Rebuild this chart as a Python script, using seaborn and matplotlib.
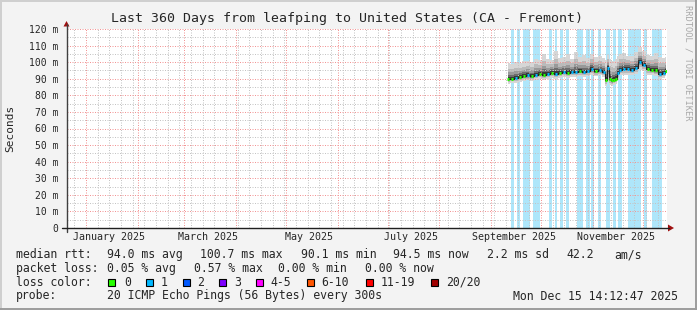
import numpy as np
import pandas as pd
import matplotlib
matplotlib.use("Agg")
import matplotlib.pyplot as plt
from matplotlib.patches import Polygon, Rectangle
from matplotlib.lines import Line2D
import seaborn as sns

# ---------------- data ----------------
# day offsets from start of 360-day window (2024-12-20 14:12:47)
days = [264.6, 267.0, 269.4, 271.8, 274.2, 276.6, 279.0, 281.4, 283.8, 286.2,
        288.6, 291.0, 293.4, 295.8, 298.2, 300.6, 303.0, 305.4, 307.8, 310.2,
        312.6, 315.0, 317.4, 319.8, 322.2, 323.4, 324.6, 325.8, 327.0, 328.2,
        329.4, 330.6, 331.8, 334.2, 336.6, 339.0, 341.4, 343.8, 346.2, 348.6,
        351.0, 353.4, 355.8, 358.2, 359.4]
median_ms = [89.8, 90.0, 90.5, 91.0, 91.5, 92.0, 91.5, 92.5, 93.0, 92.5,
             93.0, 93.5, 93.0, 93.5, 94.0, 93.5, 94.0, 94.0, 94.5, 94.0,
             94.5, 96.0, 94.5, 95.0, 94.0, 89.5, 96.5, 90.0, 89.0, 89.5,
             90.0, 93.5, 95.5, 96.0, 96.0, 95.5, 96.5, 100.3, 98.5, 96.0,
             95.5, 95.0, 93.0, 93.5, 94.5]
smoke_hi = [99.5, 99.0, 100.0, 99.5, 100.5, 101.0, 100.0, 102.0, 101.5, 105.0,
            102.0, 101.5, 106.5, 102.5, 103.0, 105.0, 102.0, 106.0, 103.0, 104.5,
            102.5, 105.0, 103.0, 104.0, 102.5, 101.5, 104.5, 102.0, 101.0, 100.5,
            102.0, 104.0, 105.0, 105.5, 104.0, 103.5, 106.0, 109.0, 106.5, 104.5,
            104.0, 105.5, 103.0, 102.5, 103.0]
smoke_lo = [87.0, 87.5, 87.5, 88.0, 88.5, 89.0, 88.5, 89.5, 90.0, 89.5,
            90.0, 90.5, 90.0, 90.5, 91.0, 90.5, 91.0, 91.0, 91.5, 91.0,
            91.5, 92.0, 91.5, 92.0, 91.0, 85.5, 88.0, 86.5, 85.5, 86.0,
            87.0, 90.0, 92.0, 92.5, 92.5, 92.0, 93.0, 95.0, 94.5, 92.5,
            92.0, 91.5, 90.0, 90.5, 91.5]
loss_pings = [0, 0, 1, 0, 0, 1, 0, 1, 0, 0,
              1, 0, 1, 0, 1, 0, 1, 1, 0, 1,
              1, 1, 0, 1, 1, 0, 1, 0, 0, 0,
              0, 1, 1, 1, 1, 1, 1, 1, 1, 0,
              0, 0, 1, 1, 0]
# light-blue loss bands (start day, end day)
band_start = [266.4, 270.0, 273.6, 279.6, 289.2, 292.8, 295.8, 299.4, 306.0, 311.4,
              314.4, 318.6, 323.4, 327.6, 330.6, 336.6, 346.2, 351.0]
band_end = [268.2, 271.8, 277.8, 283.8, 291.0, 294.0, 297.6, 301.2, 309.6, 313.8,
            316.2, 320.4, 325.8, 329.4, 333.0, 344.4, 348.0, 357.0]

month_starts = [11.41, 42.41, 70.41, 101.41, 131.41, 162.41, 192.41, 223.41, 254.41, 284.41, 315.41, 345.41]
label_days = [25.41, 84.41, 145.41, 206.41, 268.41, 329.41]
label_text = ["January 2025", "March 2025", "May 2025", "July 2025", "September 2025", "November 2025"]
yticks = [0, 10, 20, 30, 40, 50, 60, 70, 80, 90, 100, 110, 120]

loss_levels = ["0", "1", "2", "3", "4-5", "6-10", "11-19", "20/20"]
loss_colors = ["#26ff00", "#00b8ff", "#0059ff", "#7e00ff", "#ff00ff", "#ff5500", "#ff0000", "#a10000"]

# ---------------- figure ----------------
sns.set_style("white")
plt.rcParams["font.family"] = ["DejaVu Sans Mono", "DejaVu Sans"]
W, H = 697, 310
fig = plt.figure(figsize=(W / 100, H / 100), dpi=100)
fig.patch.set_facecolor("#f3f3f3")

def fx(px):
    return px / W

def fy(py):
    return 1 - py / H

L, R, T, B = 67, 667, 29, 228
ax = fig.add_axes([fx(L), fy(B), (R - L) / W, (B - T) / H])
ax.set_facecolor("white")
ax.set_xlim(0, 360)
ax.set_ylim(0, 120)
for s in ax.spines.values():
    s.set_visible(False)

# loss bands
for a, b in zip(band_start, band_end):
    ax.axvspan(a, b, color="#aee6fa", lw=0, zorder=1)

# smoke
df = pd.DataFrame({"day": days, "median": median_ms, "hi": smoke_hi, "lo": smoke_lo, "loss": loss_pings})
d = np.array(days); m = np.array(median_ms); hi = np.array(smoke_hi); lo = np.array(smoke_lo)
layers = [(1.0, "#d6d6d6"), (0.65, "#bababa"), (0.42, "#999999"), (0.26, "#6c6c6c"), (0.13, "#383838")]
for f, c in layers:
    ax.fill_between(d, m - f * (m - lo), m + f * (hi - m), step="mid", color=c, lw=0, zorder=2)

# median line
sns.lineplot(data=df, x="day", y="median", ax=ax, color="#202020", lw=0.8,
             drawstyle="steps-mid", zorder=3, legend=False)
ax.set_xlabel("")
ax.set_ylabel("")
for i in range(len(d)):
    half = 0.75
    ax.hlines(m[i], d[i] - half, d[i] + half, color=loss_colors[loss_pings[i]], lw=2.2, zorder=4)

# grid
ax.set_yticks(yticks)
ax.set_yticks(np.arange(5, 120, 10), minor=True)
ax.set_xticks(month_starts)
ax.set_xticks(np.arange(4.41, 360, 7), minor=True)
ax.grid(which="minor", color="#c4c4c4", lw=0.72, ls=(0, (1, 1.5)), zorder=5)
ax.grid(which="major", color="#f29595", lw=0.72, ls=(0, (1, 1.5)), zorder=5)
ax.set_axisbelow(False)
ax.tick_params(axis="y", which="major", length=4, width=0.8, color="#404040", labelsize=7, pad=2)
ax.tick_params(axis="y", which="minor", length=0)
ax.tick_params(axis="x", which="major", length=3, width=0.8, color="#f08080", labelbottom=False)
ax.tick_params(axis="x", which="minor", length=2, width=0.6, color="#c4c4c4")
ax.set_yticklabels(["0" if v == 0 else f"{v} m" for v in yticks], family="DejaVu Sans Mono")
for xd, t in zip(label_days, label_text):
    ax.text(xd, -5.7, t, ha="center", va="center", fontsize=7.2, family="DejaVu Sans Mono")

# axis lines and arrows
fig.add_artist(Line2D([fx(66.5), fx(66.5)], [fy(232), fy(24)], color="#404040", lw=1.0))
fig.add_artist(Line2D([fx(62), fx(669)], [fy(228), fy(228)], color="#202020", lw=1.0))
fig.add_artist(Polygon([[fx(63.5), fy(26.5)], [fx(69.5), fy(26.5)], [fx(66.5), fy(21)]], closed=True,
                       color="#a01010", lw=0))
fig.add_artist(Polygon([[fx(668), fy(224.5)], [fx(668), fy(231.5)], [fx(674), fy(228)]], closed=True,
                       color="#a01010", lw=0))

# frame
fig.add_artist(Line2D([fx(0.5), fx(0.5)], [0, 1], color="#cfcfcf", lw=1.4))
fig.add_artist(Line2D([0, 1], [fy(0.5), fy(0.5)], color="#cfcfcf", lw=1.4))
fig.add_artist(Line2D([fx(696), fx(696)], [0, 1], color="#9c9c9c", lw=1.4))
fig.add_artist(Line2D([0, 1], [fy(309), fy(309)], color="#9c9c9c", lw=1.4))

# texts
fig.text(fx(347), fy(18.5), "Last 360 Days from leafping to United States (CA - Fremont)",
         ha="center", va="center", fontsize=9.5)
fig.text(fx(10), fy(128), "Seconds", rotation=90, ha="center", va="center", fontsize=8)
fig.text(fx(688), fy(5), "RRDTOOL / TOBI OETIKER", rotation=-90, ha="center", va="top",
         fontsize=6.3, color="#a8a8a8")

fs = 8.3
def t(x, y, s, **kw):
    fig.text(fx(x), fy(y), s, ha="left", va="center", fontsize=fs, **kw)

t(16, 254.5, "median rtt:")
t(107.3, 254.5, "94.0 ms avg")
t(200, 254.5, "100.7 ms max")
t(300.7, 254.5, "90.1 ms min")
t(393.3, 254.5, "94.5 ms now")
t(486.7, 254.5, "2.2 ms sd")
t(566.7, 254.5, "42.2")
t(614.3, 254.5, "am/s")

t(16, 268.5, "packet loss:")
t(107.3, 268.5, "0.05 % avg")
t(194.3, 268.5, "0.57 % max")
t(278.3, 268.5, "0.00 % min")
t(365, 268.5, "0.00 % now")

t(16, 282, "loss color:")
sq_x = [108.3, 145.7, 182.7, 219.3, 256, 307.3, 366, 431]
lab_x = [124, 160.7, 197.3, 234.3, 270.7, 321.7, 380.7, 445.7]
for sx, lx, lab, col in zip(sq_x, lab_x, loss_levels, loss_colors):
    fig.add_artist(Rectangle((fx(sx), fy(285.5)), 7 / W, 7 / H, facecolor=col,
                             edgecolor="black", lw=0.8))
    t(lx, 282, lab)

t(16, 296, "probe:")
t(107.3, 296, "20 ICMP Echo Pings (56 Bytes) every 300s")
t(513.3, 296, "Mon Dec 15 14:12:47 2025")

fig.savefig("out.png", dpi=100, facecolor=fig.get_facecolor())
